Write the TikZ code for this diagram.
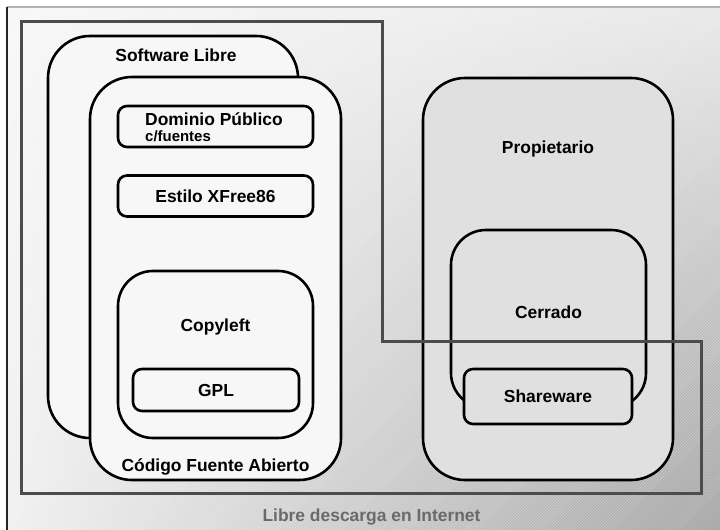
\documentclass[tikz,border=0pt]{standalone}
\usepackage{fontspec}
\setmainfont{Liberation Sans}
\usetikzlibrary{positioning,patterns,shadings}
\definecolor{openfill}{HTML}{F7F7F7}
\definecolor{closedfill}{HTML}{E0E0E0}
\definecolor{regionline}{HTML}{4C4C4C}
\definecolor{regiontext}{HTML}{6A6A6A}
\tikzset{
    on grid,
    node distance=2cm,
    box/.style = {
        draw,
        shape=rectangle,
        line width=2.6bp,
        fill=openfill
    },
    group/.style = {
        box,
        rounded corners=42bp
    },
    item/.style = {
        box,
        rounded corners=9bp,
        minimum width=195bp,
        minimum height=41bp
    },
    closed/.style = {
        fill=closedfill
    },
    caption/.style = {
        inner sep=0pt
    },
}

\begin{document}
\begin{tikzpicture}[x=1bp, y=-1bp, font=\bfseries\fontsize{17.5}{17.5}\selectfont]
        \useasboundingbox (0,0) rectangle (720,530);
        \shade[upper left=gray!6, upper right=gray!18, lower left=gray!12, lower right=gray!72] (7,7) rectangle (720,530);
        \fill[pattern=north east lines, pattern color=white, opacity=0.35] (7,7) rectangle (720,530);
        \draw[gray!60, line width=1.4bp] (7,7) -- (720,7);
        \draw[black!85, line width=1.4bp] (7,7) -- (7,530);

        % libre / abierto
        \node[group, minimum width=250bp, minimum height=402bp] (libre) at (173,237) {};
        \node[caption, below=27bp of libre.north, xshift=3bp, anchor=base] (librelbl) {Software Libre};
        \node[group, minimum width=251bp, minimum height=403bp] (abierto) at (215.5,278.5) {};
        \node[caption, above=10bp of abierto.south, anchor=base] (abiertolbl) {Código Fuente Abierto};

        \node[item] (dominio) at (215.5,126.5) {};
        \node[caption, below=21bp of dominio.north, xshift=-1.5bp, anchor=base] (dompub) {Dominio Público};
        \node[caption, below=16bp of dompub.base west, anchor=base west, font=\bfseries\fontsize{15}{15}\selectfont] (dompubsub) {c/fuentes};
        \node[item] (xfree) at (215.5,196) {Estilo XFree86};
        \node[group, rounded corners=35bp, minimum width=195bp, minimum height=167bp] (copyleft) at (215.5,354.5) {};
        \node[caption, below=62bp of copyleft.north, anchor=base] (copyleftlbl) {Copyleft};
        \node[item, minimum width=166bp, minimum height=42bp] (gpl) at (216,390) {GPL};

        % propietario
        \node[group, closed, minimum width=250bp, minimum height=402bp] (propietario) at (548,279) {};
        \node[caption, below=77bp of propietario.north, anchor=base] (propietariolbl) {Propietario};
        \node[group, closed, rounded corners=35bp, minimum width=195bp, minimum height=178bp] (cerrado) at (548.5,319) {};
        \node[caption, below=90bp of cerrado.north, anchor=base] (cerradolbl) {Cerrado};
        \node[item, closed, minimum width=168bp, minimum height=55bp] (shareware) at (548,396.5) {Shareware};

        % internet
        \draw[regionline, line width=3bp] (21,22) -- (382,22) -- (382,341) -- (701,341) -- (701,493) -- (21,493) -- cycle;
        \node[caption, text=regiontext, anchor=base] (internet) at (371.5,521) {Libre descarga en Internet};
    \end{tikzpicture}
\end{document}
